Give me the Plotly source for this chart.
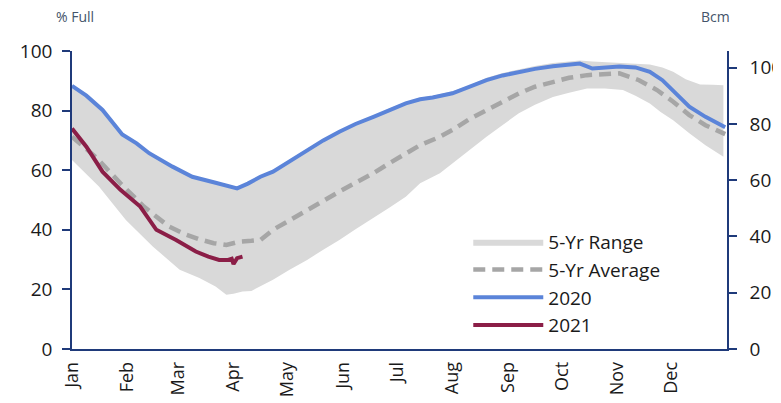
import plotly.graph_objects as go

# ---- data (day of year, % full) ----
month_days = [0, 31, 59, 90, 120, 151, 181, 212, 243, 273, 304, 334]
month_labels = ["Jan", "Feb", "Mar", "Apr", "May", "Jun", "Jul", "Aug", "Sep", "Oct", "Nov", "Dec"]

range_low_days = [0, 15, 30, 45, 60, 71, 80, 86, 90, 95, 100, 105, 112, 121, 131, 140, 149, 158, 168, 177,
                  186, 194, 205, 212, 221, 231, 240, 249, 258, 268, 277, 287, 297, 307, 314, 322, 328, 335,
                  344, 353, 363]
range_low = [63.4, 54.5, 43.3, 34.4, 26.6, 23.8, 21.0, 18.2, 18.5, 19.3, 19.5, 21.0, 23.2, 26.5, 29.9, 33.3,
             36.6, 40.2, 43.9, 47.5, 51.1, 55.6, 59.0, 62.3, 66.8, 71.2, 75.2, 79.1, 82.0, 84.6, 86.0, 87.4,
             87.4, 86.9, 85.0, 82.4, 79.5, 76.8, 72.4, 68.4, 64.5]

range_high_days = [0, 8, 17, 28, 43, 56, 67, 80, 92, 105, 112, 121, 131, 140, 149, 158, 168, 177, 186, 194,
                   201, 212, 222, 231, 240, 249, 258, 268, 276, 283, 290, 297, 305, 314, 322, 329, 335, 342,
                   350, 357, 363]
range_high = [88.5, 85.3, 80.5, 72.3, 66.0, 61.5, 58.2, 56.2, 54.3, 58.2, 60.0, 63.3, 67.2, 70.4, 73.3, 76.0,
              78.3, 80.8, 82.9, 84.3, 85.0, 86.5, 88.6, 91.0, 92.6, 93.8, 95.0, 96.0, 96.5, 96.8, 96.5, 96.3,
              96.0, 95.7, 95.5, 94.5, 93.0, 90.5, 88.8, 88.7, 88.5]

avg_days = [0, 7, 14, 27, 40, 54, 63, 71, 79, 86, 93, 100, 105, 112, 121, 131, 140, 149, 158, 168, 177, 186,
            194, 205, 212, 221, 231, 240, 249, 258, 268, 277, 287, 296, 305, 316, 326, 335, 344, 353, 364]
avg_vals = [71.2, 67.5, 64.0, 55.6, 47.8, 41.1, 38.5, 36.8, 35.5, 34.9, 36.0, 36.3, 36.6, 40.0, 43.2, 46.7,
            49.7, 52.8, 55.8, 59.0, 62.4, 65.7, 68.4, 71.2, 73.5, 77.0, 80.2, 83.2, 85.8, 88.0, 89.7, 91.0,
            91.9, 92.3, 92.5, 90.2, 86.9, 83.0, 78.5, 75.1, 72.1]

y2020_days = [0, 8, 17, 28, 36, 43, 56, 67, 80, 86, 92, 98, 105, 112, 121, 131, 140, 149, 158, 168, 177, 186,
              194, 201, 212, 222, 231, 240, 249, 258, 268, 276, 283, 290, 297, 305, 314, 322, 329, 337, 344,
              353, 364]
y2020 = [88.3, 85.0, 80.2, 72.0, 69.0, 65.7, 61.2, 57.8, 55.8, 55.0, 53.9, 55.5, 57.8, 59.5, 63.0, 66.8, 70.0,
         72.9, 75.5, 77.9, 80.3, 82.4, 83.8, 84.4, 85.8, 88.0, 90.2, 91.8, 93.0, 94.0, 94.9, 95.3, 95.8, 94.1,
         94.5, 94.8, 94.5, 93.0, 90.2, 85.5, 81.3, 77.9, 74.4]

y2021_days = [0, 8, 17, 27, 38, 47, 58, 69, 76, 82, 87, 89, 90, 92, 95]
y2021 = [74.0, 67.9, 59.5, 53.4, 47.8, 40.0, 36.6, 32.7, 31.0, 29.9, 29.9, 30.3, 28.5, 30.5, 31.0]

left_ticks = [0, 20, 40, 60, 80, 100]
right_ticks = [0, 20, 40, 60, 80, 100]

FONT = "Open Sans"
AXIS_COLOR = "#1f3a7a"

fig = go.Figure()
fig.add_trace(go.Scatter(x=range_low_days, y=range_low, mode="lines", line=dict(width=0),
                         showlegend=False, hoverinfo="skip"))
fig.add_trace(go.Scatter(x=range_high_days, y=range_high, mode="lines", line=dict(width=0),
                         fill="tonexty", fillcolor="#d9d9d9", name="5-Yr Range"))
fig.add_trace(go.Scatter(x=avg_days, y=avg_vals, mode="lines", name="5-Yr Average",
                         line=dict(color="#a6a6a6", width=4.5, dash="12px,7px")))
fig.add_trace(go.Scatter(x=y2020_days, y=y2020, mode="lines", name="2020",
                         line=dict(color="#5b84d9", width=4)))
fig.add_trace(go.Scatter(x=y2021_days, y=y2021, mode="lines", name="2021",
                         line=dict(color="#8b1e47", width=4)))
fig.add_trace(go.Scatter(x=[], y=[], yaxis="y2", showlegend=False, hoverinfo="skip"))

# page body has an 8px margin, so the figure is sized/offset to compensate
fig.update_layout(
    width=773, height=395,
    margin=dict(l=64, r=54, t=43, b=54, autoexpand=False),
    paper_bgcolor="white", plot_bgcolor="white",
    font=dict(family=FONT, size=19, color="#1a1a1a"),
    xaxis=dict(range=[0, 365], tickvals=month_days, ticktext=month_labels, tickangle=-90,
               showgrid=False, zeroline=False, showline=True, linecolor=AXIS_COLOR, linewidth=1.5,
               ticks="", tickfont=dict(size=18), ticklabelstandoff=4, automargin=False),
    yaxis=dict(range=[0, 100], tickvals=left_ticks, showgrid=False, zeroline=False,
               showline=True, linecolor=AXIS_COLOR, linewidth=1.5, ticks="outside", ticklen=8,
               tickcolor=AXIS_COLOR, tickwidth=1.5, ticklabelstandoff=6, automargin=False),
    yaxis2=dict(range=[0, 105.9], tickvals=right_ticks, overlaying="y", side="right",
                showgrid=False, zeroline=False, showline=True, linecolor=AXIS_COLOR, linewidth=1.5,
                ticks="outside", ticklen=8, tickcolor=AXIS_COLOR, tickwidth=1.5, ticklabelstandoff=9,
                automargin=False),
    legend=dict(x=0.605, y=0.423, xanchor="left", yanchor="top", bgcolor="rgba(0,0,0,0)",
                font=dict(size=19), itemwidth=70, traceorder="normal"),
    showlegend=True,
)
fig.add_annotation(text="% Full", xref="paper", yref="paper", x=0.005, y=1.115, showarrow=False,
                   font=dict(size=14, color="#44546a"), xanchor="center", yanchor="middle")
fig.add_annotation(text="Bcm", xref="paper", yref="paper", x=0.983, y=1.115, showarrow=False,
                   font=dict(size=14, color="#44546a"), xanchor="center", yanchor="middle")

fig.write_html("out.html")
